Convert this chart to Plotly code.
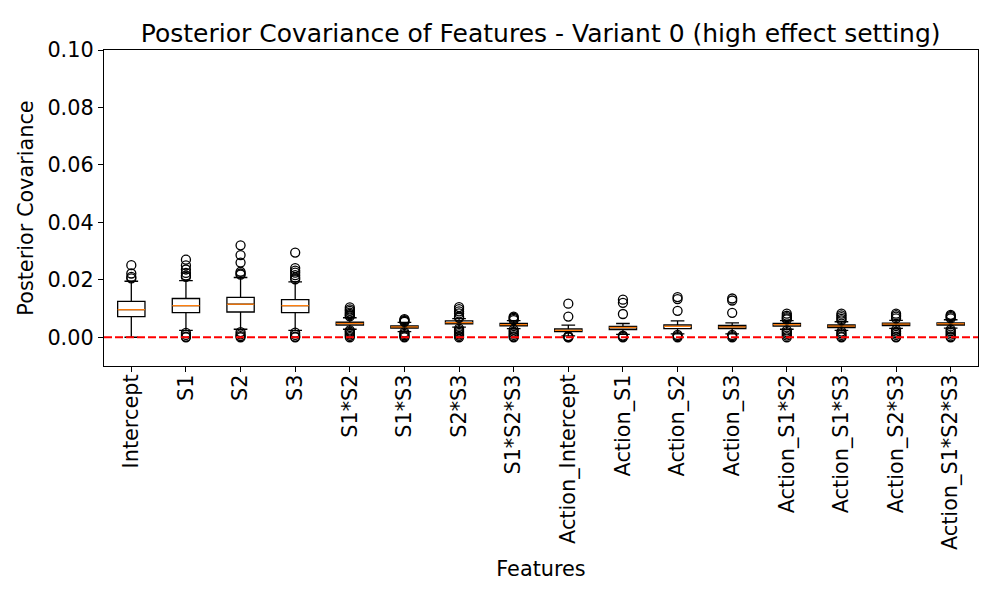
import plotly.graph_objects as go

features = ["Intercept", "S1", "S2", "S3", "S1*S2", "S1*S3", "S2*S3", "S1*S2*S3",
            "Action_Intercept", "Action_S1", "Action_S2", "Action_S3",
            "Action_S1*S2", "Action_S1*S3", "Action_S2*S3", "Action_S1*S2*S3"]

lower_fence = [0.0, 0.0024, 0.0028, 0.0024, 0.0028, 0.0020, 0.0035, 0.0030,
               0.0005, 0.0010, 0.0012, 0.0012, 0.0028, 0.0024, 0.0031, 0.0032]
q1 = [0.0072, 0.0086, 0.0088, 0.0086, 0.0042, 0.0032, 0.0047, 0.0040,
      0.0020, 0.0027, 0.0030, 0.0030, 0.0039, 0.0034, 0.0041, 0.0042]
median = [0.0096, 0.0110, 0.0115, 0.0110, 0.0048, 0.0036, 0.0051, 0.0044,
          0.0024, 0.0034, 0.0038, 0.0036, 0.0044, 0.0039, 0.0046, 0.0047]
q3 = [0.0125, 0.0135, 0.0139, 0.0131, 0.0053, 0.0040, 0.0057, 0.0048,
      0.0029, 0.0038, 0.0043, 0.0041, 0.0048, 0.0043, 0.0049, 0.0050]
upper_fence = [0.0195, 0.0197, 0.0208, 0.0193, 0.0068, 0.0052, 0.0065, 0.0058,
               0.0042, 0.0048, 0.0057, 0.0050, 0.0058, 0.0054, 0.0059, 0.0061]

outliers_high = [
    [0.0251, 0.0222, 0.0210, 0.0205],
    [0.0270, 0.0250, 0.0236, 0.0224, 0.0215, 0.0210],
    [0.0320, 0.0286, 0.0260, 0.0228, 0.0222, 0.0218],
    [0.0295, 0.0241, 0.0232, 0.0225, 0.0216, 0.0208, 0.0202],
    [0.0104, 0.0097, 0.0092, 0.0086, 0.0081, 0.0077, 0.0073],
    [0.0063, 0.0060, 0.0057, 0.0054],
    [0.0105, 0.0098, 0.0090, 0.0083, 0.0072, 0.0068],
    [0.0072, 0.0068, 0.0064, 0.0060],
    [0.0117, 0.0072],
    [0.0131, 0.0120, 0.0081],
    [0.0140, 0.0133, 0.0092],
    [0.0135, 0.0128, 0.0085],
    [0.0082, 0.0075, 0.0070, 0.0066, 0.0062],
    [0.0082, 0.0076, 0.0070, 0.0064, 0.0059],
    [0.0082, 0.0077, 0.0072, 0.0066],
    [0.0078, 0.0074, 0.0070, 0.0066],
]
outliers_low = [
    [],
    [0.0015, 0.0008, 0.0002, 0.0],
    [0.0018, 0.0010, 0.0004, 0.0],
    [0.0016, 0.0008, 0.0002, 0.0],
    [0.0024, 0.0020, 0.0015, 0.0010, 0.0005, 0.0],
    [0.0017, 0.0012, 0.0007, 0.0003, 0.0],
    [0.0030, 0.0025, 0.0020, 0.0015, 0.0010, 0.0005, 0.0],
    [0.0026, 0.0020, 0.0014, 0.0008, 0.0003, 0.0],
    [0.0004, 0.0001, 0.0],
    [0.0006, 0.0003, 0.0],
    [0.0008, 0.0004, 0.0],
    [0.0008, 0.0004, 0.0],
    [0.0024, 0.0018, 0.0012, 0.0006, 0.0],
    [0.0020, 0.0014, 0.0008, 0.0003, 0.0],
    [0.0026, 0.0020, 0.0014, 0.0008, 0.0002, 0.0],
    [0.0027, 0.0021, 0.0015, 0.0009, 0.0003, 0.0],
]

positions = list(range(len(features)))
box_w = 0.5

fig = go.Figure()
fig.add_trace(go.Box(
    x=positions, q1=q1, median=median, q3=q3,
    lowerfence=lower_fence, upperfence=upper_fence,
    width=box_w, whiskerwidth=0.5,
    fillcolor="rgba(255,255,255,0)",
    line=dict(color="black", width=1.3),
    boxpoints=False, showlegend=False, hoverinfo="skip",
))

# orange median lines
mx, my = [], []
for p, m in zip(positions, median):
    mx += [p - box_w / 2, p + box_w / 2, None]
    my += [m, m, None]
fig.add_trace(go.Scatter(x=mx, y=my, mode="lines",
                         line=dict(color="#ff7f0e", width=1.3),
                         showlegend=False, hoverinfo="skip"))

# outliers
ox, oy = [], []
for p, hi, lo in zip(positions, outliers_high, outliers_low):
    for v in hi + lo:
        ox.append(p)
        oy.append(v)
fig.add_trace(go.Scatter(x=ox, y=oy, mode="markers",
                         marker=dict(symbol="circle-open", size=9,
                                     color="black", line=dict(width=1.3)),
                         showlegend=False, hoverinfo="skip"))

fig.add_shape(type="line", xref="paper", x0=0, x1=1, yref="y", y0=0, y1=0,
              line=dict(color="red", width=2, dash="8px,3px"), layer="above")

font = "DejaVu Sans"
fs = 20.8
fig.update_layout(
    width=992, height=592,
    margin=dict(l=96, r=22, t=42, b=234, autoexpand=False),
    plot_bgcolor="white", paper_bgcolor="white",
    font=dict(family=font, color="black", size=fs),
    title=dict(text="Posterior Covariance of Features - Variant 0 (high effect setting)",
               x=0.537, xanchor="center", y=0.958, yanchor="middle",
               font=dict(size=25, family=font, color="black")),
    xaxis=dict(range=[-0.5, len(features) - 0.5], tickvals=positions, ticktext=features,
               tickangle=-90, showgrid=False, zeroline=False, automargin=False,
               showline=True, mirror=True, linecolor="black", linewidth=1.3,
               ticks="outside", ticklen=5, tickcolor="black", tickfont=dict(size=fs),
               ticklabelstandoff=-6,
               title=dict(text="Features", font=dict(size=fs), standoff=12)),
    yaxis=dict(range=[-0.01, 0.1], tickvals=[0, 0.02, 0.04, 0.06, 0.08, 0.1],
               tickformat=".2f", showgrid=False, zeroline=False, automargin=False,
               showline=True, mirror=True, linecolor="black", linewidth=1.3,
               ticks="outside", ticklen=5, tickcolor="black", tickfont=dict(size=fs),
               title=dict(text="Posterior Covariance", font=dict(size=fs), standoff=8)),
)

fig.write_html("out.html")
